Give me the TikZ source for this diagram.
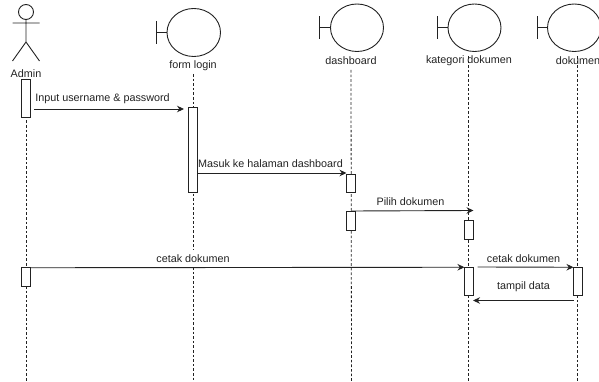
\documentclass[tikz,border=0pt]{standalone}
\usepackage{fontspec}
\setmainfont{Liberation Sans}
\usetikzlibrary{arrows.meta}
\definecolor{ink}{HTML}{222222}
\tikzset{
  lifeline/.style={draw=ink,line width=0.8pt,dash pattern=on 2.6pt off 2pt},
  actbox/.style={draw=ink,fill=white,line width=0.9pt,minimum width=9pt,inner sep=0pt,outer sep=0pt},
  msg/.style={draw=ink,line width=0.9pt,-{Stealth[length=7pt,width=6.5pt]}},
  lbl/.style={font=\fontsize{10.8}{12}\selectfont,text=ink,inner sep=0pt},
  shapeline/.style={draw=ink,line width=0.9pt}
}
\newcommand{\boundary}[6]{% name, bar x, ellipse left, ellipse right, top, bottom
  \pgfmathsetmacro{\cy}{(#5+#6)/2}
  \pgfmathsetmacro{\cx}{(#3+#4)/2}
  \pgfmathsetmacro{\rx}{(#4-#3)/2}
  \pgfmathsetmacro{\ry}{(#6-#5)/2}
  \draw[shapeline] (\cx,\cy) ellipse [x radius=\rx,y radius=\ry];
  \draw[shapeline] (#2,\cy-11.5) -- (#2,\cy+11.5);
  \draw[shapeline] (#2,\cy) -- (#3,\cy);
}
\begin{document}
\begin{tikzpicture}[x=1pt,y=-1pt]
\useasboundingbox (0,0) rectangle (599,382);
\clip (0,0) rectangle (599,382);
% actor
\draw[shapeline] (26,12) circle [radius=7.5];
\draw[shapeline] (26,19.5) -- (26,42) (12.5,23) -- (39.5,23) (12.5,61) -- (26,42) -- (39.5,61);
% boundaries
\boundary{a}{156.5}{167}{220.5}{8.5}{56.5}
\boundary{b}{319.5}{330.5}{383.5}{4}{51.5}
\boundary{c}{437.5}{448}{501}{4}{51.5}
\boundary{d}{537}{547.5}{601}{4}{51.5}
% labels
\node[lbl] (ladmin) at (26,73.5) {Admin};
\node[lbl] (lform) at (193,65.5) {form login};
\node[lbl] (ldash) at (351,61) {dashboard};
\node[lbl] (lkat) at (469,61) {kategori dokumen};
\node[lbl] (ldok) at (578,61) {dokumen};
% lifeline ends
\coordinate (eadmin) at (26,381);
\coordinate (eform) at (193,381);
\coordinate (edash) at (351.5,381);
\coordinate (ekat) at (468.5,381);
\coordinate (edok) at (577.5,381);
\coordinate (sform) at (193,74);
\coordinate (sdash) at (351,70);
\coordinate (skat) at (468.5,56);
\coordinate (sdok) at (577.5,56);
\coordinate (sadmin) at (26,79);
\draw[lifeline] (sadmin) -- (eadmin);
\draw[lifeline] (sform) -- (eform);
\draw[lifeline] (sdash) -- (edash);
\draw[lifeline] (skat) -- (ekat);
\draw[lifeline] (sdok) -- (edok);
% activations
\node[actbox,minimum height=38pt] (a1) at (26,98) {};
\node[actbox,minimum height=18.5pt] (a2) at (26,277) {};
\node[actbox,minimum height=85pt] (f1) at (193,150) {};
\node[actbox,minimum height=18pt] (d1) at (351,183) {};
\node[actbox,minimum height=19pt] (d2) at (351,221) {};
\node[actbox,minimum height=19pt] (k1) at (469,230) {};
\node[actbox,minimum height=28.5pt] (k2) at (469,281.5) {};
\node[actbox,minimum height=28.5pt] (o1) at (578,281.5) {};
% messages
\coordinate (m1s) at (34,109); \coordinate (m1e) at (184,109);
\draw[msg] (m1s) -- (m1e);
\node[lbl] at (102.5,98.5) {Input username \& password};
\draw[msg] (f1.east |- 0,173) -- (d1.west |- 0,173);
\node[lbl] at (270.5,164) {Masuk ke halaman dashboard};
\coordinate (m3e) at (473.5,210.5);
\draw[msg] (d2.north) ++(0,-0.5) -- (m3e);
\node[lbl] at (410.5,202) {Pilih dokumen};
\node[lbl,fill=white,minimum height=18pt,inner xsep=1pt] at (193,259) {cetak dokumen};
\draw[msg] (a2.north east) -- (k2.north west);
\coordinate (m5s) at (477.5,267);
\draw[msg] (m5s) -- (o1.north west);
\node[lbl] at (523.5,258.5) {cetak dokumen};
\coordinate (m6s) at (573.5,300.5); \coordinate (m6e) at (473,300.5);
\draw[msg] (m6s) -- (m6e);
\node[lbl] at (523.5,287) {tampil data};
\end{tikzpicture}
\end{document}
